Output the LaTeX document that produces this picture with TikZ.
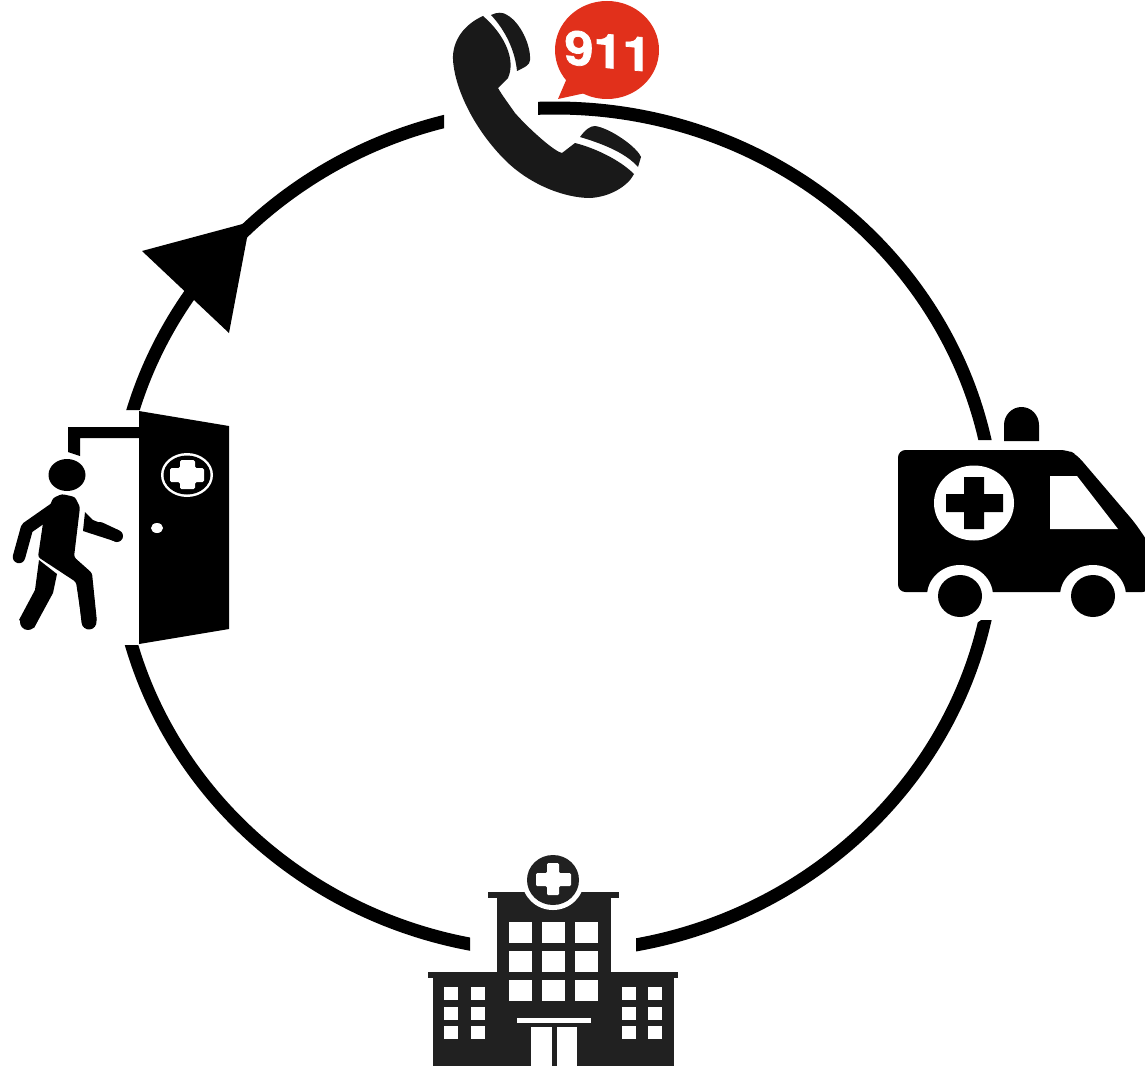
\documentclass[tikz,border=0pt]{standalone}
\usepackage{fontspec}
\setmainfont{Liberation Sans}
\newfontfamily\bubblefont[BoldFeatures={FakeBold=1.5}]{TeX Gyre Heros}
\definecolor{bubblered}{HTML}{E1301B}
\tikzset{
  ring/.style={draw=black, line width=0.26cm},
  ink/.style={fill=black},
  phone/.style={fill=black!90},
  block/.style={fill=black!87},
  hole/.style={fill=white},
  limb/.style={draw=black, line cap=round, line join=round},
  bubbletext/.style={text=white, font=\bubblefont\bfseries\fontsize{27}{27}\selectfont, inner sep=0pt},
}

\begin{document}
\begin{tikzpicture}[x=0.02cm, y=-0.02cm]
  \useasboundingbox (0,0) rectangle (1145,1068);

  % ---------- ring, broken at the four icons ----------
  \coordinate (ringC) at (555,530);
  \begin{scope}
    \clip (538,0) rectangle (1145,440) (636,620) rectangle (1145,1068)
          (0,645) rectangle (470,1068) (0,0) rectangle (444,410);
    \draw[ring] (ringC) ellipse [x radius=440, y radius=422];
  \end{scope}
  \fill[ink] (142,251) -- (250,222) -- (229,333) -- cycle;

  % ---------- phone ----------
  \fill[phone] (483,16) .. controls (465,24) and (452,40) .. (453,60)
    .. controls (455,90) and (475,130) .. (505,160) .. controls (530,185) and (565,198) .. (590,198)
    .. controls (610,197) and (628,186) .. (634,174) .. controls (620,160) and (595,148) .. (575,143)
    -- (562,153) .. controls (555,152) and (530,130) .. (515,113)
    .. controls (508,103) and (502,95) .. (498,88) -- (508,78)
    .. controls (516,60) and (505,35) .. cycle;
  \fill[phone] (491,15) .. controls (497,12) and (503,12) .. (507,15)
    .. controls (520,22) and (531,45) .. (530,60) .. controls (530,65) and (525,67) .. (517,71)
    .. controls (515,50) and (505,30) .. cycle;
  \fill[phone] (580,137) .. controls (585,130) and (590,126) .. (595,126)
    .. controls (610,128) and (637,147) .. (641,157) -- (638,167)
    .. controls (625,152) and (600,143) .. cycle;
  \fill[bubblered] (607,50) ellipse [x radius=52, y radius=49];
  \fill[bubblered] (567,78) -- (558,99) -- (590,92) -- cycle;
  \begin{scope}[shift={(608,51)}, yslant=-0.09]
    \node[bubbletext, transform shape] (call) at (0,0) {\scalebox{1.1}[1]{911}};
  \end{scope}

  % ---------- ambulance ----------
  \fill[ink, rounded corners=1.5mm] (898,450) -- (1068,450) -- (1077,455) -- (1135,523)
    -- (1150,545) -- (1150,592) -- (898,592) -- cycle;
  \fill[ink] (1004,441) -- (1004,425) arc [start angle=180, end angle=360, x radius=17.5, y radius=18]
    -- (1039,441) -- cycle;
  \fill[hole] (974,503) ellipse [x radius=40, y radius=37.5];
  \fill[ink] (964,477) -- (984,477) -- (984,494) -- (1003,494) -- (1003,512) -- (984,512)
    -- (984,529) -- (964,529) -- (964,512) -- (946,512) -- (946,494) -- (964,494) -- cycle;
  \fill[hole] (1050,476) -- (1077,476) -- (1118,529) -- (1050,529) -- cycle;
  \foreach \wheelx in {960,1093} {
    \fill[hole] (\wheelx,596) ellipse [x radius=33, y radius=31];
    \fill[ink] (\wheelx,596) ellipse [x radius=22, y radius=21];
  }

  % ---------- hospital ----------
  \fill[block] (488,892) rectangle (619,898);
  \fill[block] (497,898) rectangle (611,972);
  \fill[block] (428,972) rectangle (678,978);
  \fill[block] (433,978) rectangle (674,1066);
  \fill[hole] (553,880) ellipse [x radius=31, y radius=30];
  \fill[block] (553,880) ellipse [x radius=26, y radius=25];
  \fill[hole, rounded corners=0.25mm] (547,863) -- (559,863) -- (559,873) -- (571,873) -- (571,886)
    -- (559,886) -- (559,895) -- (547,895) -- (547,886) -- (536,886) -- (536,873) -- (547,873) -- cycle;
  \foreach \winx in {509,542,575} \foreach \winy in {922,951,980}
    \fill[hole] (\winx,\winy) rectangle +(23,21);
  \foreach \winx in {444,471,622,648} \foreach \winy in {987,1007,1026}
    \fill[hole] (\winx,\winy) rectangle +(14,13);
  \fill[hole] (517,1018) rectangle (591,1023);
  \fill[hole] (531,1027) rectangle (577,1066);
  \fill[block] (552,1027) rectangle (557,1066);

  % ---------- door ----------
  \fill[ink] (139,411) -- (229,426) -- (229,629) -- (139,644) -- cycle;
  \fill[ink] (68,427) -- (139,427) -- (139,438) -- (80,438) -- (80,456) -- (68,452) -- cycle;
  \fill[hole] (187,475) ellipse [x radius=26, y radius=22];
  \fill[ink] (187,475) ellipse [x radius=23.5, y radius=19.5];
  \fill[hole, rounded corners=0.3mm] (180,460) -- (195,460) -- (195,468) -- (204,468) -- (204,482)
    -- (195,482) -- (195,489) -- (180,489) -- (180,482) -- (170,482) -- (170,468) -- (180,468) -- cycle;
  \fill[hole] (157,528) ellipse [x radius=6, y radius=5];

  % ---------- person ----------
  \fill[ink] (67,475) ellipse [x radius=18.5, y radius=16];
  \fill[ink, rounded corners=0.5mm] (43,523) -- (53,498) -- (62,494) -- (75,497) -- (80,507)
    -- (74,557) -- (92,573) -- (97,622) -- (82,622) -- (76,582) -- (38,557) -- cycle;
  \draw[limb, line width=0.25cm] (19,557) -- (27,528) -- (57,507);
  \draw[limb, line width=0.3cm] (84,577) -- (89,622);
  \fill[ink] (39,560) -- (57,574) -- (53,593) -- (34,628) -- (19,620) -- (35,590) -- cycle;
  \draw[limb, line width=0.32cm] (28,622) -- (30,618);
  \fill[ink] (85,512) -- (93,520) -- (118,530) -- (117,542) -- (83,531) -- cycle;
  \draw[limb, line width=0.24cm] (100,528) -- (117,536);
\end{tikzpicture}
\end{document}
